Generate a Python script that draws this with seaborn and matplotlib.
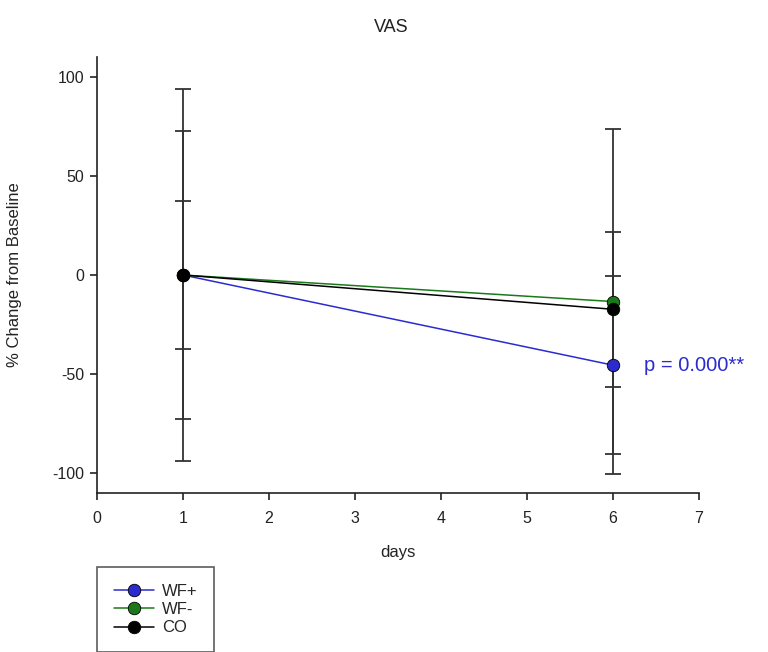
import matplotlib
matplotlib.use("Agg")
import matplotlib.pyplot as plt
import seaborn as sns
import pandas as pd

days = [1, 6]
groups = ["WF+", "WF-", "CO"]
means_wfp = [0, -45.5]
means_wfm = [0, -13.4]
means_co = [0, -17.3]
sd_wfp = [72.7, 45.0]
sd_wfm = [94.0, 87.0]
sd_co = [37.4, 39.0]
colors = ["#2b2bd0", "#1a7a1a", "#000000"]
p_text = "p = 0.000**"

sns.set_style("white")
plt.rcParams['font.family'] = ['Liberation Sans', 'DejaVu Sans']
plt.rcParams['axes.unicode_minus'] = False

df = pd.DataFrame({
    "days": days * 3,
    "value": means_wfp + means_wfm + means_co,
    "sd": sd_wfp + sd_wfm + sd_co,
    "group": [g for g in groups for _ in days],
})

fig = plt.figure(figsize=(7.68, 6.52), dpi=100)
ax = fig.add_axes([97/768, 1-493/652, (699-97)/768, (493-57)/652])

for g in groups:
    sub = df[df.group == g]
    ax.errorbar(sub["days"], sub["value"], yerr=sub["sd"], fmt="none",
                ecolor="#333333", elinewidth=1.3, capsize=6, capthick=1.3, zorder=2)

sns.lineplot(data=df, x="days", y="value", hue="group", hue_order=groups,
             palette=colors, marker="o", markersize=9, markeredgecolor="black",
             markeredgewidth=0.6, linewidth=1.1, ax=ax, zorder=3, legend=True)

ax.set_xlim(0, 7)
ax.set_ylim(-110, 110)
ax.set_xticks(range(0, 8))
ax.set_yticks([-100, -50, 0, 50, 100])
for s in ["top", "right"]:
    ax.spines[s].set_visible(False)
for s in ["left", "bottom"]:
    ax.spines[s].set_color("#222222")
    ax.spines[s].set_linewidth(1.2)
ax.tick_params(axis="both", direction="out", length=5, width=1.2, colors="#222222",
               labelsize=11.5, labelcolor="#222222", bottom=True, left=True)
ax.tick_params(axis="x", pad=8)
ax.tick_params(axis="y", pad=4)
ax.set_xlabel("days", fontsize=12, labelpad=14, color="#222222")
ax.set_ylabel("% Change from Baseline", fontsize=12, color="#222222")
ax.yaxis.set_label_coords((22-97)/602, 0.5)
fig.text(0.5 + 0.01, 1 - 27/652, "VAS", ha="center", va="center", fontsize=13, color="#222222")

ax.text(6.36, means_wfp[1], p_text, color="#2b2bd0", fontsize=14.5, va="center", ha="left")

handles, labels = ax.get_legend_handles_labels()
leg = ax.legend(handles, labels, loc="upper left", bbox_to_anchor=(97/768, 1-567/652),
                bbox_transform=fig.transFigure, frameon=True, fancybox=False,
                edgecolor="#333333", fontsize=12, handlelength=2.4, handletextpad=0.5,
                borderpad=1.0, labelspacing=0.2, borderaxespad=0)
leg.get_frame().set_linewidth(1.2)

fig.savefig("out.png", dpi=100)
